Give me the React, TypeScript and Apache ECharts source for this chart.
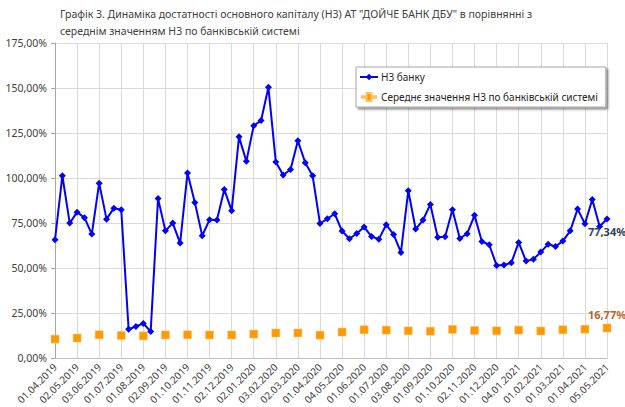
import React, { useEffect, useRef } from "react";
import * as echarts from "echarts";

const TITLE_LINE1 = 'Графік 3. Динаміка достатності основного капіталу (Н3) АТ "ДОЙЧЕ БАНК ДБУ" в порівнянні з';
const TITLE_LINE2 = "середнім значенням Н3 по банківській системі";

const SERIES_BANK = "Н3 банку";
const SERIES_SYSTEM = "Середнє значення Н3 по банківській системі";

// Monthly tick labels (each month holds 3 observations of the bank series)
const monthLabels = [
  "01.04.2019", "02.05.2019", "03.06.2019", "01.07.2019", "01.08.2019", "02.09.2019",
  "01.10.2019", "01.11.2019", "02.12.2019", "02.01.2020", "03.02.2020", "02.03.2020",
  "01.04.2020", "04.05.2020", "01.06.2020", "01.07.2020", "03.08.2020", "01.09.2020",
  "01.10.2020", "02.11.2020", "01.12.2020", "04.01.2021", "01.02.2021", "01.03.2021",
  "01.04.2021", "05.05.2021",
];

// Bank H3 (%), three observations per month
const bankValues = [
  65.7, 101.3, 75.0, 81.1, 78.0, 68.9, 97.2, 77.2, 83.3, 82.4,
  16.1, 17.6, 19.3, 14.8, 88.7, 70.7, 75.0, 63.9, 102.8, 86.5,
  68.0, 76.9, 76.7, 93.7, 81.9, 122.9, 109.3, 129.1, 132.0, 150.4,
  108.9, 101.7, 104.8, 120.7, 108.5, 101.3, 74.8, 77.4, 80.2, 70.6,
  66.3, 69.2, 72.8, 67.6, 66.1, 74.1, 68.7, 58.7, 93.0, 71.7,
  76.7, 85.4, 67.2, 67.4, 82.4, 66.5, 69.1, 79.3, 64.8, 63.0,
  51.5, 51.7, 53.0, 64.3, 53.9, 55.0, 58.9, 63.3, 62.0, 65.0,
  70.7, 82.8, 74.6, 88.1, 73.1, 77.34,
];

// Banking system average H3 (%), monthly
const systemValues = [
  10.6, 11.2, 13.0, 12.6, 12.4, 12.9, 13.0, 12.9, 12.9, 13.4,
  14.0, 14.0, 12.8, 14.5, 15.8, 15.6, 15.2, 15.0, 16.0, 15.4,
  15.2, 15.6, 15.1, 15.8, 16.1, 16.77,
];

const STEP = 3;

const fmtPct = (v: number) => v.toFixed(2).replace(".", ",") + "%";

export default function App() {
  const ref = useRef<HTMLDivElement>(null);

  useEffect(() => {
    if (!ref.current) return;
    const chart = echarts.init(ref.current, null, { renderer: "svg" });

    const categories: string[] = [];
    monthLabels.forEach((m, i) => {
      categories.push(m);
      if (i < monthLabels.length - 1) {
        for (let k = 1; k < STEP; k++) categories.push("");
      }
    });

    const bankData: any[] = bankValues.map((v, i) =>
      i === bankValues.length - 1
        ? {
            value: v,
            label: {
              show: true,
              position: "bottom",
              distance: 4,
              formatter: (p: any) => fmtPct(p.value),
              color: "#2f4159",
              fontWeight: "bold",
              fontSize: 11,
              fontFamily: "Noto Sans",
            },
          }
        : v
    );

    const systemData: any[] = categories.map(() => null);
    systemValues.forEach((v, i) => {
      const idx = i * STEP;
      systemData[idx] =
        i === systemValues.length - 1
          ? {
              value: v,
              label: {
                show: true,
                position: "top",
                distance: 4,
                formatter: (p: any) => fmtPct(p.value),
                color: "#b8642a",
                fontWeight: "bold",
                fontSize: 11,
                fontFamily: "Noto Sans",
              },
            }
          : v;
    });

    chart.setOption({
      animation: false,
      backgroundColor: "#ffffff",
      textStyle: { fontFamily: "Noto Sans" },
      graphic: [
        {
          type: "text",
          left: 60,
          top: 5,
          style: {
            text: TITLE_LINE1 + "\n" + TITLE_LINE2,
            fontSize: 10.5,
            lineHeight: 17,
            fill: "#404040",
            fontFamily: "Noto Sans",
          },
        },
      ],
      legend: {
        orient: "vertical",
        left: 356,
        top: 67,
        padding: [5, 8, 5, 3],
        itemWidth: 18,
        itemHeight: 8,
        itemGap: 10,
        backgroundColor: "#ffffff",
        borderColor: "#a6a6a6",
        borderWidth: 1,
        shadowColor: "rgba(0,0,0,0.45)",
        shadowBlur: 2,
        shadowOffsetX: 2,
        shadowOffsetY: 2,
        textStyle: { fontSize: 10, color: "#262626", fontFamily: "Noto Sans", padding: [0, 0, 0, -2] },
        data: [
          { name: SERIES_BANK },
          {
            name: SERIES_SYSTEM,
            icon: "path://M0,4H6V0H12V4H18V6H12V10H6V6H0Z",
          },
        ],
      },
      grid: { left: 55, right: 18, top: 43, bottom: 48, containLabel: false },
      xAxis: {
        type: "category",
        data: categories,
        boundaryGap: false,
        axisLine: { lineStyle: { color: "#bfbfbf" } },
        axisTick: { show: false },
        axisLabel: {
          interval: STEP - 1,
          rotate: 45,
          fontSize: 10,
          color: "#404040",
          margin: 7,
          fontFamily: "Noto Sans",
        },
        splitLine: {
          show: true,
          interval: STEP - 1,
          lineStyle: { color: "#d9d9d9", width: 1 },
        },
      },
      yAxis: {
        type: "value",
        min: 0,
        max: 175,
        interval: 25,
        axisLine: { show: true, lineStyle: { color: "#a6a6a6" } },
        axisTick: { show: true, length: 4, lineStyle: { color: "#a6a6a6" } },
        axisLabel: {
          formatter: (v: number) => fmtPct(v),
          fontSize: 10.5,
          color: "#404040",
          margin: 8,
          fontFamily: "Noto Sans",
        },
        splitLine: { show: true, lineStyle: { color: "#d9d9d9", width: 1 } },
      },
      series: [
        {
          name: SERIES_BANK,
          type: "line",
          data: bankData,
          color: "#0000ff",
          lineStyle: { color: "#0000ff", width: 2 },
          symbol: "diamond",
          symbolSize: 7,
          showAllSymbol: true,
          itemStyle: { color: "#0000ff" },
          z: 3,
        },
        {
          name: SERIES_SYSTEM,
          type: "line",
          data: systemData,
          color: "#ff9900",
          lineStyle: { opacity: 0 },
          symbol: "rect",
          symbolSize: 8,
          showAllSymbol: true,
          itemStyle: { color: "#ff9900", borderColor: "#ffc060", borderWidth: 0.5 },
          z: 2,
        },
      ],
    });

    return () => chart.dispose();
  }, []);

  return (
    <div
      ref={ref}
      style={{ position: "fixed", left: 0, top: 0, width: 625, height: 407 }}
    />
  );
}
